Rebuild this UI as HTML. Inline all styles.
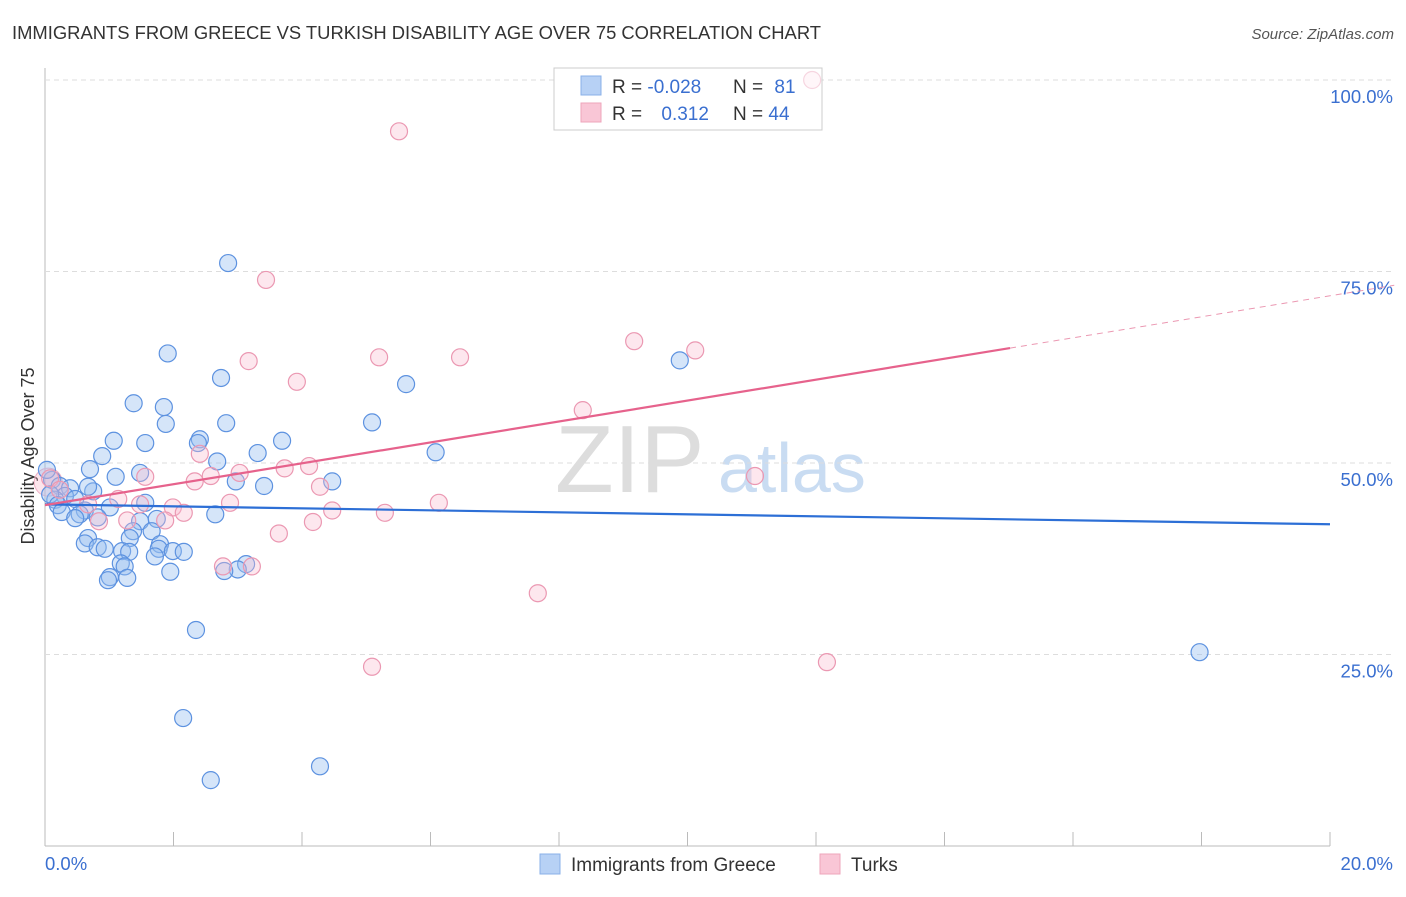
<!DOCTYPE html>
<html><head><meta charset="utf-8"><style>
body{margin:0;background:#fff;width:1406px;height:892px;overflow:hidden;font-family:"Liberation Sans",sans-serif}
svg text{font-family:"Liberation Sans",sans-serif}
</style></head><body>
<svg id="chart" width="1406" height="892">
<text x="12" y="39" font-size="18.4" fill="#333">IMMIGRANTS FROM GREECE VS TURKISH DISABILITY AGE OVER 75 CORRELATION CHART</text>
<text x="1394" y="39" font-size="15" fill="#555" font-style="italic" text-anchor="end">Source: ZipAtlas.com</text>
<text x="34" y="456" font-size="18" fill="#333" text-anchor="middle" transform="rotate(-90 34 456)">Disability Age Over 75</text>
<text x="555" y="492" font-size="96" fill="#ddd" font-family="Liberation Serif">ZIP</text>
<text x="718" y="492" font-size="70" fill="#c9dcf2">atlas</text>
<g id="grid"></g>
<rect x="554" y="68" width="268" height="62" fill="#fff" stroke="#ccc"/>
<rect x="581" y="76" width="20" height="19" fill="#b7d1f5" stroke="#8ab0e8"/>
<rect x="581" y="103" width="20" height="19" fill="#f9c6d6" stroke="#eea5bb"/>
<text x="612" y="93" font-size="19" fill="#333">R = <tspan fill="#3a6fd0">-0.028</tspan></text>
<text x="733" y="93" font-size="19" fill="#333">N = <tspan fill="#3a6fd0" dx="6">81</tspan></text>
<text x="612" y="120" font-size="19" fill="#333">R = <tspan fill="#3a6fd0" dx="14">0.312</tspan></text>
<text x="733" y="120" font-size="19" fill="#333">N = <tspan fill="#3a6fd0">44</tspan></text>
<g id="marks"></g>
<rect x="540" y="854" width="20" height="20" fill="#b7d1f5" stroke="#8ab0e8"/>
<text x="571" y="871" font-size="19" fill="#333">Immigrants from Greece</text>
<rect x="820" y="854" width="20" height="20" fill="#f9c6d6" stroke="#eea5bb"/>
<text x="851" y="871" font-size="19" fill="#333">Turks</text>
</svg>
<script>
const yTicks=[25,50,75,100];
const xTickLabels=["0.0%","20.0%"];
const blueX=[2.85,1.91,2.74,5.62,9.88,1.38,1.85,2.82,1.88,5.09,1.07,1.56,2.41,2.38,3.69,0.89,3.31,6.08,2.68,0.70,1.10,1.48,2.97,3.41,4.47,0.11,0.23,0.39,0.75,0.31,0.16,0.47,0.08,0.2,1.56,1.01,0.62,0.54,0.26,0.82,0.47,1.48,1.74,2.65,1.66,1.37,0.67,0.62,0.82,1.32,1.79,0.93,1.20,1.31,1.77,1.99,2.16,1.71,1.18,1.24,3.13,3.00,2.79,1.95,1.01,0.98,1.28,2.35,2.15,2.58,4.28,17.97,0.03,0.67];
const blueY=[76.1,64.3,61.1,60.3,63.4,57.8,57.3,55.2,55.1,55.3,52.9,52.6,53.1,52.6,52.9,50.9,51.3,51.4,50.2,49.2,48.2,48.7,47.6,47.0,47.6,47.8,47.0,46.7,46.3,45.7,45.2,45.3,45.9,44.5,44.8,44.2,43.8,43.3,43.6,42.9,42.8,42.4,42.7,43.3,41.1,41.1,40.2,39.5,39.0,40.2,39.4,38.8,38.5,38.4,38.8,38.5,38.4,37.8,36.9,36.5,36.8,36.1,35.9,35.8,35.1,34.7,35.0,28.2,16.7,8.6,10.4,25.3,49.1,46.9];
const pinkX=[11.94,5.51,3.44,9.17,10.12,6.46,5.2,3.17,3.92,8.37,2.41,4.11,3.73,3.03,2.58,1.56,11.05,2.33,4.28,0.08,1.14,2.88,6.13,1.99,1.48,0.67,4.47,2.16,5.29,4.17,1.28,1.87,0.84,3.64,2.77,3.22,7.67,5.09,12.17,0.23];
const pinkY=[100,93.3,73.9,65.9,64.7,63.8,63.8,63.3,60.6,56.9,51.2,49.6,49.3,48.7,48.3,48.2,48.3,47.6,46.9,48.0,45.3,44.8,44.8,44.2,44.6,44.6,43.8,43.5,43.5,42.3,42.5,42.5,42.4,40.8,36.5,36.5,33.0,23.4,24.0,46.5];
const blueLine=[[0,44.6],[20,42.0]];
const pinkLine=[[0,44.5],[15.02,65.0]];
const pinkDash=[[15.02,65.0],[21,73.2]];
const X=v=>45+v/20*1285, Y=v=>846-v/100*766;
const NS="http://www.w3.org/2000/svg";
const grid=document.getElementById('grid'), marks=document.getElementById('marks');
function mk(tag,attrs,parent){const e=document.createElementNS(NS,tag);for(const k in attrs)e.setAttribute(k,attrs[k]);parent.appendChild(e);return e;}
let a=mk('line',{x1:45,y1:68,x2:45,y2:846,stroke:'#bbb'},grid);


a=mk('line',{x1:45,y1:846,x2:1330,y2:846,stroke:'#bbb'},grid);


for(let i=1;i<=10;i++){const t=mk('line',{x1:X(i*2),y1:832,x2:X(i*2),y2:846,stroke:'#bbb'},grid);

}
yTicks.forEach(v=>{const l=mk('line',{x1:45,y1:Y(v),x2:1393,y2:Y(v),stroke:'#ddd','stroke-dasharray':'5 4'},grid);


const t=mk('text',{x:1393,y:Y(v)+23,'font-size':18.5,fill:'#3a6fd0','text-anchor':'end'},grid);t.textContent=v.toFixed(1)+'%';

});
xTickLabels.forEach((s,i)=>{const t=mk('text',{x:i?1393:45,y:870,'font-size':18.5,fill:'#3a6fd0','text-anchor':i?'end':'start'},grid);t.textContent=s;

});
const big=mk('circle',{cx:X(0.05),cy:Y(47.5),r:14,fill:'rgba(245,180,200,0.35)',stroke:'#f0b0c4'},marks);


blueX.forEach((v,i)=>{const c=mk('circle',{cx:X(v),cy:Y(blueY[i]),r:8.5,fill:'rgba(150,190,240,0.4)',stroke:'#5d92e0','stroke-width':1.2},marks);

});
pinkX.forEach((v,i)=>{const c=mk('circle',{cx:X(v),cy:Y(pinkY[i]),r:8.5,fill:'rgba(248,185,205,0.35)',stroke:'#eb98b2','stroke-width':1.2,opacity:pinkY[i]>=99?0.4:1},marks);

});
let l=mk('line',{x1:X(blueLine[0][0]),y1:Y(blueLine[0][1]),x2:X(blueLine[1][0]),y2:Y(blueLine[1][1]),stroke:'#2d6fd6','stroke-width':2.2},marks);


l=mk('line',{x1:X(pinkLine[0][0]),y1:Y(pinkLine[0][1]),x2:X(pinkLine[1][0]),y2:Y(pinkLine[1][1]),stroke:'#e6628c','stroke-width':2.2},marks);


l=mk('line',{x1:X(pinkDash[0][0]),y1:Y(pinkDash[0][1]),x2:X(pinkDash[1][0]),y2:Y(pinkDash[1][1]),stroke:'#eb98b2','stroke-width':1,'stroke-dasharray':'6 5'},marks);


</script>
</body></html>
